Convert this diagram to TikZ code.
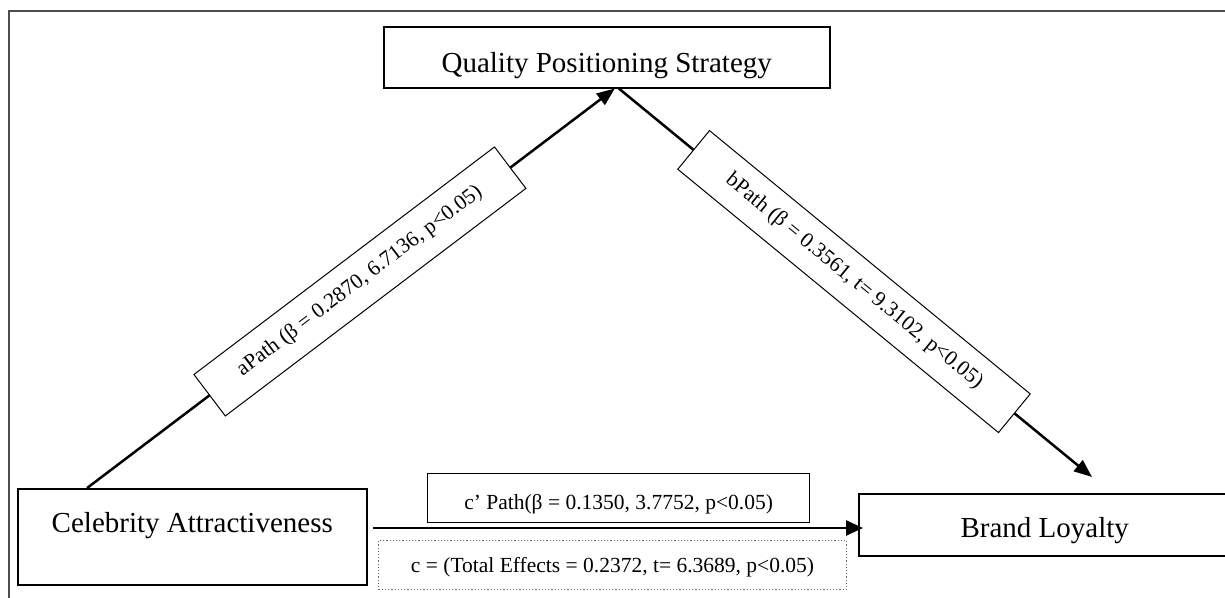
\documentclass[tikz,border=0pt]{standalone}
\usepackage{fontspec}
\setmainfont{Liberation Serif}
\usetikzlibrary{arrows.meta,calc}
\begin{document}
\begin{tikzpicture}[x=1pt,y=-1pt,
  varbox/.style={draw=black, line width=1.5pt, inner sep=0pt, anchor=north west,
    font=\fontsize{29}{34}\selectfont},
  lblbox/.style={draw=black, line width=1.2pt, inner sep=0pt, anchor=north west,
    font=\fontsize{21.5}{26}\selectfont},
  pathlbl/.style={draw=black, line width=1pt, fill=white, inner sep=0pt,
    font=\fontsize{21.5}{26}\selectfont, text height=15pt, text depth=5pt},
  arr/.style={line width=2.5pt, -{Triangle[length=18pt,width=14pt]}},
  harr/.style={line width=2.5pt, -{Triangle[length=17pt,width=15pt]}},
  frameline/.style={draw=black!70, line width=2pt}
]
\useasboundingbox (0,0) rectangle (1225,597);
\clip (0,0) rectangle (1225,597);
\fill[white] (0,0) rectangle (1225,597);

% outer frame (only top and left visible)
\coordinate (fbl) at (9,600);
\coordinate (ftl) at (9,11);
\coordinate (ftr) at (1230,11);
\draw[frameline] (fbl) -- (ftl) -- (ftr);

% variable boxes
\node[varbox, minimum width=446pt, text height=46pt, text depth=15pt] (qps) at (383,26)
  {Quality Positioning Strategy};
\node[varbox, minimum width=349pt, text height=44pt, text depth=52pt] (ca) at (17,488)
  {Celebrity Attractiveness};
\node[varbox, minimum width=372pt, text height=44pt, text depth=18pt] (bl) at (858,493)
  {Brand Loyalty};

% label boxes for c' and c
\node[lblbox, minimum width=382pt, text height=36pt, text depth=13pt] (cp) at (427,473)
  {c’ Path(β = 0.1350, 3.7752, p<0.05)};
\node[lblbox, draw=black!60, dotted, line width=1pt, minimum width=468pt, text height=32pt, text depth=17pt] (ct) at (378,540)
  {c = (Total Effects = 0.2372, t= 6.3689, p<0.05)};

% a path
\draw[arr] ($(ca.north west)!0.2!(ca.north east)$) --
  node[pathlbl, sloped, pos=0.517, minimum width=377pt, minimum height=52pt] (alab)
  {aPath (β = 0.2870, 6.7136, p<0.05)}
  ($(qps.south west)!0.518!(qps.south east)$);

% b path
\coordinate (bend) at (1092,477);
\draw[arr] ($(qps.south west)!0.527!(qps.south east)$) --
  node[pathlbl, sloped, pos=0.497, minimum width=415pt, minimum height=50pt] (blab)
  {bPath (β = 0.3561, t= 9.3102, p<0.05)}
  (bend);

% c' path
\coordinate (cstart) at (373,528);
\draw[harr, shorten >=-5pt] (cstart) -- (cstart -| bl.west);
\end{tikzpicture}
\end{document}
